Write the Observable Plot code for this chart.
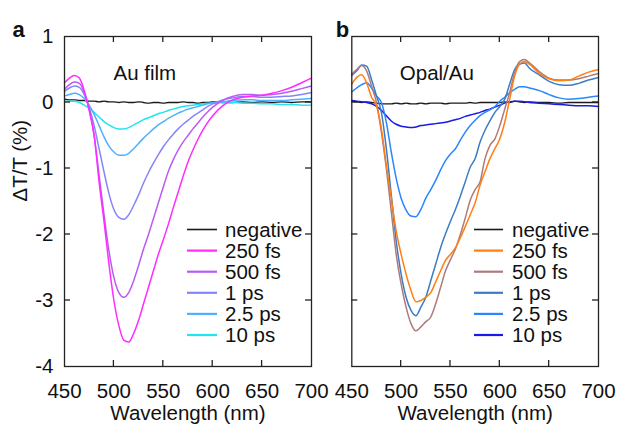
<!DOCTYPE html>
<html>
<head>
<meta charset="utf-8">
<script src="https://cdn.jsdelivr.net/npm/d3@7"></script>
<script src="https://cdn.jsdelivr.net/npm/@observablehq/plot@0.6"></script>
<style>
  html, body { margin: 0; padding: 0; background: #fff; }
  #wrap { position: relative; width: 618px; height: 426px; overflow: hidden; background: #fff; }
  #pa, #pb { position: absolute; top: 0; }
  #pa { left: 0; }
  #pb { left: 330px; }
</style>
</head>
<body>
<div id="wrap"><div id="pa"></div><div id="pb"></div></div>
<script>
// ---- tick labels ----
const xTicks = [450, 500, 550, 600, 650, 700];
const yTicks = [-4, -3, -2, -1, 0, 1];
const seriesNames = ["negative", "250 fs", "500 fs", "1 ps", "2.5 ps", "10 ps"];

// ---- panel a: Au film ----
const wlA = [450,455,460,465,470,475,480,485,490,495,500,505,510,515,520,525,530,535,540,545,550,555,560,565,570,575,580,585,590,595,600,610,620,630,640,650,660,670,680,690,700];
const negA  = [0.05,0.04,0.04,0.03,0.03,0.02,0.02,0.01,0.02,0.01,0.01,0.0,0.01,0.0,0.0,0.01,0.0,-0.01,0.0,0.0,-0.01,0.0,0.0,0.0,0.01,0.0,0.0,-0.01,0.0,0.0,0.01,0.0,0.0,0.01,0.0,0.01,0.0,0.01,0.0,0.01,0.01];
const f250A = [0.30,0.37,0.41,0.37,0.18,-0.12,-0.5,-1.2,-1.8,-2.45,-3.0,-3.38,-3.6,-3.63,-3.5,-3.3,-3.05,-2.8,-2.55,-2.3,-2.08,-1.85,-1.6,-1.36,-1.12,-0.9,-0.72,-0.56,-0.42,-0.3,-0.2,-0.05,0.04,0.08,0.1,0.11,0.14,0.18,0.23,0.3,0.37];
const f500A = [0.2,0.27,0.31,0.29,0.15,-0.1,-0.5,-1.1,-1.7,-2.25,-2.65,-2.88,-2.95,-2.88,-2.7,-2.47,-2.22,-2.0,-1.76,-1.52,-1.28,-1.05,-0.87,-0.72,-0.6,-0.5,-0.4,-0.31,-0.22,-0.14,-0.07,0.03,0.09,0.12,0.12,0.11,0.12,0.14,0.17,0.21,0.25];
const f1A   = [0.17,0.22,0.25,0.23,0.12,-0.08,-0.35,-0.7,-1.05,-1.38,-1.62,-1.74,-1.77,-1.7,-1.56,-1.4,-1.22,-1.06,-0.92,-0.79,-0.67,-0.57,-0.48,-0.4,-0.33,-0.27,-0.21,-0.16,-0.11,-0.06,-0.02,0.04,0.07,0.09,0.09,0.08,0.08,0.09,0.1,0.12,0.15];
const f25A  = [0.1,0.12,0.14,0.12,0.06,-0.04,-0.18,-0.35,-0.52,-0.66,-0.75,-0.8,-0.8,-0.77,-0.7,-0.62,-0.54,-0.47,-0.4,-0.34,-0.29,-0.24,-0.2,-0.16,-0.13,-0.1,-0.08,-0.06,-0.04,-0.02,-0.01,0.01,0.03,0.04,0.04,0.03,0.03,0.03,0.04,0.05,0.06];
const f10A  = [0.02,0.02,0.02,0.0,-0.04,-0.09,-0.15,-0.22,-0.29,-0.34,-0.38,-0.4,-0.4,-0.38,-0.34,-0.3,-0.26,-0.23,-0.2,-0.17,-0.15,-0.12,-0.1,-0.08,-0.06,-0.05,-0.04,-0.03,-0.02,-0.01,-0.01,0.0,0.0,-0.01,-0.01,-0.02,-0.02,-0.03,-0.03,-0.04,-0.04];
const colorsA = ["#1a1a1a", "#ff2bff", "#b95cf4", "#8585fb", "#4fb0ff", "#1fe6f0"];

// ---- panel b: Opal/Au ----
const wlB = [450,455,460,465,470,475,480,485,490,495,500,505,510,515,520,525,530,535,540,545,550,555,560,565,570,575,580,585,590,595,600,605,610,615,620,625,630,640,650,660,670,680,690,700];
const negB  = [0.02,0.01,0.0,0.01,0.0,-0.01,-0.02,-0.02,-0.02,-0.01,-0.02,-0.01,-0.02,-0.02,-0.01,-0.02,-0.01,-0.01,-0.01,-0.02,-0.01,-0.01,-0.01,-0.01,0.0,-0.01,0.0,0.0,0.0,0.0,0.0,0.01,0.0,0.02,0.01,0.0,0.01,0.0,0.0,-0.01,0.0,0.0,0.0,0.0];
const f250B = [0.28,0.38,0.42,0.3,0.08,-0.05,-0.4,-0.95,-1.45,-1.95,-2.3,-2.6,-2.85,-3.02,-3.0,-2.95,-2.88,-2.72,-2.55,-2.39,-2.3,-2.2,-2.05,-1.88,-1.7,-1.52,-1.25,-1.05,-0.85,-0.7,-0.55,-0.3,0.05,0.4,0.58,0.62,0.58,0.44,0.36,0.33,0.34,0.4,0.46,0.5];
const f500B = [0.43,0.5,0.56,0.48,0.25,0.0,-0.45,-1.0,-1.65,-2.3,-2.75,-3.1,-3.35,-3.46,-3.4,-3.32,-3.25,-3.05,-2.8,-2.55,-2.38,-2.22,-2.0,-1.75,-1.48,-1.32,-1.2,-0.85,-0.65,-0.55,-0.35,-0.1,0.15,0.45,0.62,0.65,0.6,0.47,0.37,0.34,0.34,0.36,0.4,0.44];
const f1B   = [0.41,0.48,0.57,0.55,0.35,0.1,-0.15,-0.7,-1.4,-2.1,-2.6,-2.95,-3.15,-3.23,-3.1,-2.95,-2.7,-2.45,-2.2,-1.99,-1.8,-1.62,-1.42,-1.2,-0.98,-0.85,-0.6,-0.42,-0.28,-0.15,-0.06,0.05,0.28,0.5,0.58,0.6,0.52,0.42,0.32,0.27,0.26,0.29,0.34,0.38];
const f25B  = [0.16,0.22,0.27,0.3,0.22,0.1,0.0,-0.3,-0.75,-1.15,-1.45,-1.63,-1.72,-1.73,-1.62,-1.45,-1.32,-1.18,-1.02,-0.88,-0.78,-0.7,-0.57,-0.45,-0.35,-0.27,-0.2,-0.15,-0.11,-0.06,0.02,0.08,0.15,0.2,0.24,0.24,0.22,0.18,0.12,0.07,0.05,0.06,0.08,0.1];
const f10B  = [0.03,0.02,0.01,0.0,-0.02,-0.06,-0.12,-0.2,-0.28,-0.33,-0.36,-0.37,-0.38,-0.37,-0.35,-0.34,-0.33,-0.32,-0.31,-0.3,-0.28,-0.26,-0.24,-0.21,-0.19,-0.17,-0.15,-0.12,-0.1,-0.07,-0.04,-0.01,0.01,0.02,0.02,0.01,0.0,-0.01,-0.02,-0.03,-0.04,-0.05,-0.05,-0.06];
const colorsB = ["#1a1a1a", "#ff7f12", "#b07a7a", "#3b7cc4", "#2a86ff", "#1a1ae8"];

const FONT = "'Liberation Sans', Arial, Helvetica, sans-serif";
const FS = 20.5;

function panel({el, width, marginLeft, marginRight, wl, series, colors, title, titleDx, letter, letterDx, yLabels, legendLineX, legendTextX}) {
  const marks = [];
  const order = [0, 5, 4, 3, 2, 1];
  for (const k of order) {
    const rows = wl.map((w, i) => ({w, v: series[k][i]}));
    marks.push(Plot.line(rows, {x: "w", y: "v", stroke: colors[k], strokeWidth: k === 0 ? 1.3 : 1.5, curve: "monotone-x"}));
  }
  marks.push(Plot.frame({stroke: "#222", strokeWidth: 1.3}));
  marks.push(Plot.axisX(xTicks, {anchor: "bottom", tickSize: 0, tickPadding: 17, tickFormat: d => String(d), label: null, fontSize: FS}));
  if (yLabels) {
    marks.push(Plot.axisY(yTicks, {anchor: "left", tickSize: 0, tickPadding: 11, tickFormat: d => String(d), label: null, fontSize: FS}));
    marks.push(Plot.text(["\u0394T/T (%)"], {text: d => d, frameAnchor: "left", dx: -44, rotate: -90, fontSize: FS}));
  } else {
    marks.push(Plot.axisY(yTicks, {anchor: "left", tickSize: 0, tickFormat: () => "", label: null}));
  }
  marks.push(Plot.text(["Wavelength (nm)"], {text: d => d, frameAnchor: "bottom", dy: 53.5, fontSize: FS}));
  marks.push(Plot.text([title], {text: d => d, frameAnchor: "top-left", dx: titleDx, dy: 29, textAnchor: "start", fontSize: FS}));
  marks.push(Plot.text([letter], {text: d => d, frameAnchor: "top-left", dx: letterDx, dy: -15, textAnchor: "start", fontSize: 22, fontWeight: "bold"}));

  const plot = Plot.plot({
    width, height: 426,
    marginLeft, marginRight, marginTop: 36, marginBottom: 60,
    x: {domain: [450, 700]},
    y: {domain: [-4, 1]},
    style: {fontFamily: FONT, fontSize: FS + "px", background: "transparent", overflow: "visible", color: "#111"},
    marks
  });

  // inward ticks on all four sides, positioned via Plot's own scales
  const sx = plot.scale("x"), sy = plot.scale("y");
  const svg = d3.select(plot);
  const g = svg.append("g").attr("stroke", "#222").attr("stroke-width", 1.3);
  const T = 6;
  const x0 = sx.apply(450), x1 = sx.apply(700), y0 = sy.apply(-4), y1 = sy.apply(1);
  for (const t of xTicks.slice(1, -1)) {
    const px = sx.apply(t);
    g.append("line").attr("x1", px).attr("x2", px).attr("y1", y0).attr("y2", y0 - T);
    g.append("line").attr("x1", px).attr("x2", px).attr("y1", y1).attr("y2", y1 + T);
  }
  for (const t of yTicks.slice(1, -1)) {
    const py = sy.apply(t);
    g.append("line").attr("y1", py).attr("y2", py).attr("x1", x0).attr("x2", x0 + T);
    g.append("line").attr("y1", py).attr("y2", py).attr("x1", x1).attr("x2", x1 - T);
  }

  // legend
  const lg = svg.append("g").attr("font-family", FONT).attr("font-size", FS).attr("text-anchor", "start");
  seriesNames.forEach((name, i) => {
    const yy = 229.5 + i * 21.1;
    lg.append("line").attr("x1", legendLineX[0]).attr("x2", legendLineX[1]).attr("y1", yy).attr("y2", yy)
      .attr("stroke", colors[i]).attr("stroke-width", i === 0 ? 1.6 : 2.2);
    lg.append("text").attr("x", legendTextX).attr("y", yy).attr("dy", "0.35em").attr("fill", "#111").text(name);
  });
  el.append(plot);
}

panel({
  el: document.getElementById("pa"), width: 330, marginLeft: 64, marginRight: 19,
  wl: wlA, series: [negA, f250A, f500A, f1A, f25A, f10A], colors: colorsA,
  title: "Au film", titleDx: 49, letter: "a", letterDx: -52, yLabels: true,
  legendLineX: [187, 217], legendTextX: 225
});
panel({
  el: document.getElementById("pb"), width: 288, marginLeft: 21.3, marginRight: 20,
  wl: wlB, series: [negB, f250B, f500B, f1B, f25B, f10B], colors: colorsB,
  title: "Opal/Au", titleDx: 48, letter: "b", letterDx: -16, yLabels: false,
  legendLineX: [144, 173], legendTextX: 182
});
</script>
</body>
</html>
